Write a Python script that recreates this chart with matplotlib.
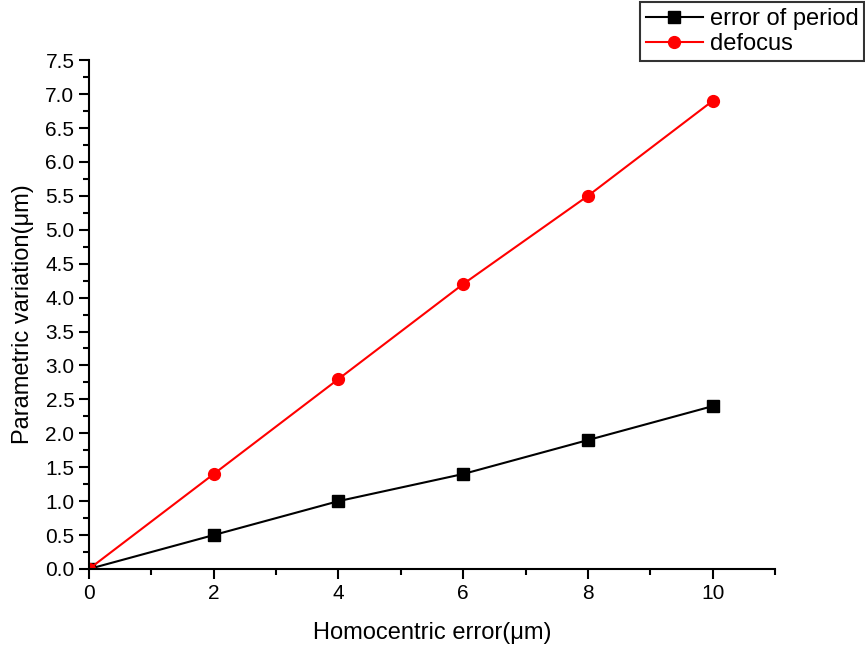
import matplotlib
matplotlib.use("Agg")
import matplotlib.pyplot as plt
from matplotlib.ticker import MultipleLocator

x_vals = [0, 2, 4, 6, 8, 10]
period_err = [0.0, 0.5, 1.0, 1.4, 1.9, 2.4]
defocus = [0.0, 1.4, 2.8, 4.2, 5.5, 6.9]

plt.rcParams['font.family'] = ['Liberation Sans', 'DejaVu Sans']

fig = plt.figure(figsize=(8.65, 6.47), dpi=100)
ax = fig.add_axes([0.1029, 0.1206, 0.7931, 0.7864])

ax.plot(x_vals, period_err, color='black', marker='s', markersize=8, lw=1.5, label='error of period')
ax.plot(x_vals, defocus, color='red', marker='o', markersize=8.5, lw=1.5, label='defocus')

ax.set_xlim(0, 11)
ax.set_ylim(0, 7.5)
ax.xaxis.set_major_locator(MultipleLocator(2))
ax.xaxis.set_minor_locator(MultipleLocator(1))
ax.yaxis.set_major_locator(MultipleLocator(0.5))
ax.yaxis.set_minor_locator(MultipleLocator(0.25))
ax.xaxis.set_major_formatter(plt.FuncFormatter(lambda v, p: f"{v:.0f}"))
ax.yaxis.set_major_formatter(plt.FuncFormatter(lambda v, p: f"{v:.1f}"))

for s in ['top', 'right']:
    ax.spines[s].set_visible(False)
for s in ['left', 'bottom']:
    ax.spines[s].set_linewidth(1.5)
ax.tick_params(which='major', direction='out', length=7, width=1.5, labelsize=15)
ax.tick_params(which='minor', direction='out', length=4, width=1.5)

ax.set_xlabel('Homocentric error(μm)', fontsize=17, labelpad=14)
ax.set_ylabel('Parametric variation(μm)', fontsize=17, labelpad=8)

leg = fig.legend(loc='upper left', bbox_to_anchor=(0.74, 0.997), fontsize=17,
                 frameon=True, fancybox=False, edgecolor='black',
                 handlelength=2.4, borderpad=0.25, labelspacing=0.15, handletextpad=0.3,
                 borderaxespad=0)
leg.get_frame().set_linewidth(1.5)

fig.savefig('out.png', dpi=100)
